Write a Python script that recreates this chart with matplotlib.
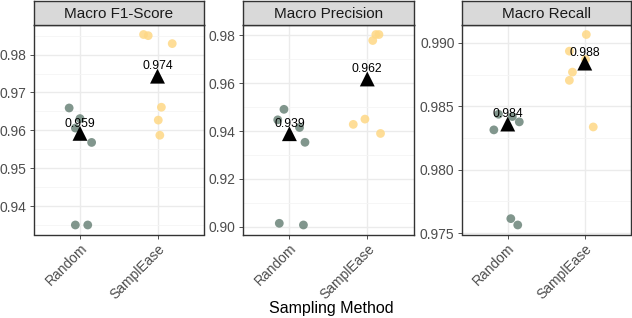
import numpy as np
import matplotlib
matplotlib.use("Agg")
import matplotlib.pyplot as plt
from matplotlib.ticker import FormatStrFormatter, MultipleLocator

plt.rcParams["font.family"] = ["Liberation Sans", "DejaVu Sans"]

methods = ["Random", "SamplEase"]
titles = ["Macro F1-Score", "Macro Precision", "Macro Recall"]

# values (6 runs per method)
f1_random = [0.9659, 0.9631, 0.9606, 0.9568, 0.9350, 0.9350]
f1_samplease = [0.9853, 0.9850, 0.9829, 0.9661, 0.9627, 0.9587]
prec_random = [0.9491, 0.9447, 0.9415, 0.9353, 0.9014, 0.9007]
prec_samplease = [0.9779, 0.9804, 0.9804, 0.9428, 0.9450, 0.9390]
rec_random = [0.98437, 0.98419, 0.98377, 0.98314, 0.97615, 0.97565]
rec_samplease = [0.99065, 0.98934, 0.98869, 0.98769, 0.98704, 0.98337]

f1_means = [0.9592, 0.9743]
prec_means = [0.9389, 0.9618]
rec_means = [0.9836, 0.9884]

# horizontal jitter of each point (category units)
f1_jit_random = [-0.14, 0.0, -0.06, 0.15, -0.06, 0.10]
f1_jit_samplease = [-0.18, -0.12, 0.19, 0.05, 0.01, 0.03]
prec_jit_random = [-0.07, -0.15, 0.13, 0.20, -0.13, 0.18]
prec_jit_samplease = [0.07, 0.11, 0.15, -0.18, -0.03, 0.17]
rec_jit_random = [-0.12, 0.06, 0.15, -0.18, 0.04, 0.13]
rec_jit_samplease = [0.02, -0.20, 0.01, -0.16, -0.20, 0.11]

panels = [
    (f1_random, f1_samplease, f1_jit_random, f1_jit_samplease, f1_means, 0.01, "%.2f"),
    (prec_random, prec_samplease, prec_jit_random, prec_jit_samplease, prec_means, 0.02, "%.2f"),
    (rec_random, rec_samplease, rec_jit_random, rec_jit_samplease, rec_means, 0.005, "%.3f"),
]

colors = ["#6b8479", "#fed885"]
W, H = 632, 318
fig = plt.figure(figsize=(W / 100, H / 100), dpi=100)

lefts = [33.5, 242.7, 461.5]
rights = [204, 414, 631]
top_px, bot_px, strip_top = 25, 234.5, 1

for i, (rnd, se, jr, js, means, step, fmt) in enumerate(panels):
    x0 = lefts[i] / W
    w = (rights[i] - lefts[i]) / W
    ax = fig.add_axes([x0, (H - bot_px) / H, w, (bot_px - top_px) / H])
    sax = fig.add_axes([x0, (H - top_px) / H, w, (top_px - strip_top) / H])

    groups = [rnd, se]
    jits = [jr, js]
    for k in range(2):
        xs = k + np.array(jits[k])
        ax.scatter(xs, groups[k], s=40, color=colors[k], alpha=0.85,
                   edgecolors="none", zorder=3)
    ax.scatter([0, 1], means, marker="^", s=115, color="black",
               edgecolors="none", zorder=4)
    for k in range(2):
        ax.annotate("%.3f" % means[k], (k, means[k]), xytext=(0, 7),
                    textcoords="offset points", ha="center", va="center",
                    fontsize=8.8, color="black", zorder=5)

    allv = rnd + se
    lo, hi = min(allv), max(allv)
    pad = (hi - lo) * 0.05
    ax.set_ylim(lo - pad, hi + pad)
    ax.set_xlim(-0.6, 1.6)
    ax.yaxis.set_major_locator(MultipleLocator(step))
    ax.yaxis.set_minor_locator(MultipleLocator(step / 2))
    ax.yaxis.set_major_formatter(FormatStrFormatter(fmt))
    ax.set_xticks([0, 1])
    ax.set_xticklabels(methods, rotation=45, ha="right", rotation_mode="anchor")
    ax.tick_params(axis="both", which="major", labelsize=10, labelcolor="#4d4d4d",
                   color="#333333", length=3, width=0.6, pad=2)
    ax.tick_params(axis="y", which="minor", length=0)
    ax.grid(True, which="major", color="#ebebeb", linewidth=1.0)
    ax.grid(True, which="minor", axis="y", color="#f5f5f5", linewidth=0.6)
    ax.set_axisbelow(True)
    for sp in ax.spines.values():
        sp.set_color("#333333")
        sp.set_linewidth(1.0)

    sax.set_facecolor("#d9d9d9")
    sax.set_xticks([])
    sax.set_yticks([])
    for sp in sax.spines.values():
        sp.set_color("#333333")
        sp.set_linewidth(1.0)
    sax.text(0.5, 0.45, titles[i], transform=sax.transAxes, ha="center",
             va="center", fontsize=11, color="#1a1a1a")

fig.text(331 / W, 1 - 309 / H, "Sampling Method", ha="center", va="center",
         fontsize=11.5, color="black")

fig.savefig("out.png", dpi=100)
